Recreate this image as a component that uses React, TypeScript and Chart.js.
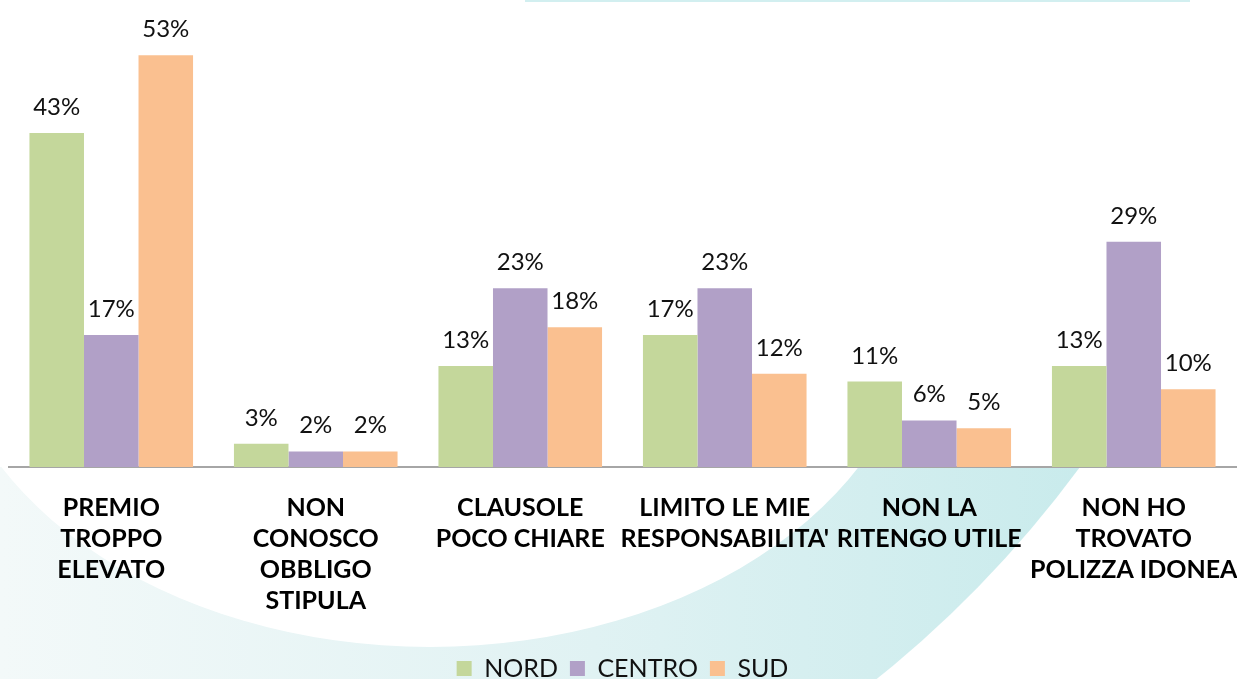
import React, { useEffect, useRef } from "react";
import { Chart, registerables } from "chart.js";

Chart.register(...registerables);

const categories: string[][] = [
  ["PREMIO", "TROPPO", "ELEVATO"],
  ["NON", "CONOSCO", "OBBLIGO", "STIPULA"],
  ["CLAUSOLE", "POCO CHIARE"],
  ["LIMITO LE MIE", "RESPONSABILITA'"],
  ["NON LA", "RITENGO UTILE"],
  ["NON HO", "TROVATO", "POLIZZA IDONEA"],
];
const nord = [43, 3, 13, 17, 11, 13];
const centro = [17, 2, 23, 23, 6, 29];
const sud = [53, 2, 18, 12, 5, 10];
const seriesNames = ["NORD", "CENTRO", "SUD"];
const seriesColors = ["#c4d79b", "#b1a0c7", "#fac090"];

const FONT = "Lato, 'Open Sans', sans-serif";

const backgroundPlugin = {
  id: "bgShape",
  beforeDraw(chart: any) {
    const { ctx, chartArea, width, height } = chart;
    const axisY = chartArea.bottom;
    ctx.save();
    ctx.fillStyle = "#ffffff";
    ctx.fillRect(0, 0, width, height);
    // thin decorative line at the top
    ctx.fillStyle = "#d2eff0";
    ctx.fillRect(525, 0, 665, 2);
    ctx.beginPath();
    ctx.rect(0, axisY, width, height - axisY);
    ctx.clip();
    const g = ctx.createLinearGradient(0, 0, 1080, 0);
    g.addColorStop(0, "#f3f9f9");
    g.addColorStop(0.55, "#e0f2f3");
    g.addColorStop(1, "#c9ebec");
    ctx.fillStyle = g;
    ctx.beginPath();
    ctx.moveTo(0, axisY);
    ctx.lineTo(1080, axisY);
    ctx.quadraticCurveTo(982, 600, 850, 700);
    ctx.lineTo(0, 700);
    ctx.closePath();
    ctx.fill();
    ctx.fillStyle = "#ffffff";
    ctx.beginPath();
    ctx.ellipse(430, 300, 489, 347, 0, 0, Math.PI * 2);
    ctx.fill();
    ctx.restore();
  },
};

const valueLabelPlugin = {
  id: "valueLabels",
  afterDatasetsDraw(chart: any) {
    const { ctx } = chart;
    ctx.save();
    ctx.font = `400 24px ${FONT}`;
    ctx.fillStyle = "#111111";
    ctx.textAlign = "center";
    ctx.textBaseline = "alphabetic";
    chart.data.datasets.forEach((ds: any, i: number) => {
      const meta = chart.getDatasetMeta(i);
      meta.data.forEach((bar: any, j: number) => {
        ctx.fillText(`${ds.data[j]}%`, bar.x, bar.y - 18);
      });
    });
    ctx.restore();
  },
};

export default function App() {
  const canvasRef = useRef<HTMLCanvasElement | null>(null);

  useEffect(() => {
    if (!canvasRef.current) return;
    const data = [nord, centro, sud];
    const chart = new Chart(canvasRef.current, {
      type: "bar",
      data: {
        labels: categories,
        datasets: seriesNames.map((name, i) => ({
          label: name,
          data: data[i],
          backgroundColor: seriesColors[i],
          borderWidth: 0,
          categoryPercentage: 0.8,
          barPercentage: 1.0,
        })),
      },
      options: {
        responsive: true,
        maintainAspectRatio: false,
        animation: false,
        layout: { padding: { left: 9, right: 1, top: 1, bottom: 0 } },
        plugins: {
          legend: {
            display: true,
            position: "bottom",
            labels: {
              boxWidth: 15,
              boxHeight: 15,
              padding: 12,
              color: "#111111",
              font: { family: FONT, size: 25, weight: "normal" },
            },
          },
          tooltip: { enabled: false },
        },
        scales: {
          x: {
            grid: { display: false, drawTicks: false },
            border: { display: true, color: "#a6a6a6", width: 2 },
            ticks: {
              color: "#000000",
              padding: 25,
              maxRotation: 0,
              autoSkip: false,
              font: { family: FONT, size: 25, weight: "bold", lineHeight: "31px" },
            },
            afterFit(scale: any) {
              scale.height = 177;
              scale.paddingLeft = 0;
              scale.paddingRight = 0;
            },
          },
          y: {
            display: false,
            min: 0,
            max: 60,
          },
        },
      },
      plugins: [backgroundPlugin, valueLabelPlugin],
    } as any);
    return () => chart.destroy();
  }, []);

  return (
    <div style={{ position: "absolute", left: 0, top: 0, width: 1237, height: 679, overflow: "hidden" }}>
      <div style={{ position: "relative", width: 1237, height: 691 }}>
        <canvas ref={canvasRef} />
      </div>
    </div>
  );
}
